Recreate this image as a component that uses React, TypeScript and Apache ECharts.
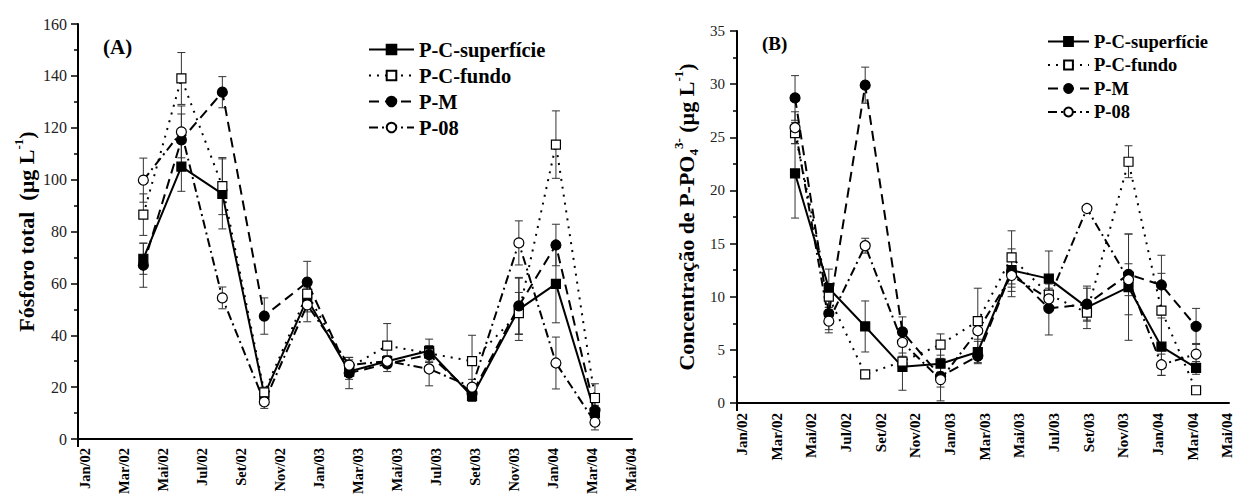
import React, { useEffect, useRef } from "react";
import * as echarts from "echarts";

const SERIF = '"Liberation Serif", "Times New Roman", serif';

// x tick labels every two months, starting Jan/02 (month 0)
const xTickLabels = [
  "Jan/02", "Mar/02", "Mai/02", "Jul/02", "Set/02", "Nov/02",
  "Jan/03", "Mar/03", "Mai/03", "Jul/03", "Set/03", "Nov/03",
  "Jan/04", "Mar/04", "Mai/04",
];

// sampling dates in months since Jan/02
const sampleMonths = [3.35, 5.3, 7.4, 9.55, 11.75, 13.9, 15.85, 18.0, 20.2, 22.6, 24.5, 26.5];

const seriesNames = ["P-C-superfície", "P-C-fundo", "P-M", "P-08"];

// (A) Fósforo total (µg/L)
const A_sup = [69.5, 105, 94.5, 17, 54, 26, 30, 34, 16.5, 50, 59.8, 10];
const A_sup_err = [6, 9.5, 13.5, 2, 5, 3, 2, 4.5, 2, 12, 15, 3];
const A_fun = [86.5, 139, 97.5, 18, 56, 27.5, 36, 33, 30, 48.5, 113.5, 15.8];
const A_fun_err = [8, 10, 11, 2, 5, 3, 8.5, 3, 10, 8, 13, 5.5];
const A_pm = [67, 115.3, 133.7, 47.4, 60.5, 25.4, 29, 32.5, 17.5, 51.3, 74.8, 11];
const A_pm_err = [8.5, 10, 6, 7, 8, 6, 3, 3, 2, 11, 8, 3];
const A_p08 = [99.8, 118.4, 54.4, 14.3, 51.7, 28.5, 30, 27, 20, 75.6, 29.3, 6.5];
const A_p08_err = [8.5, 10, 4.2, 2.5, 6.5, 3, 2, 6.5, 3, 8.5, 10, 3];

// (B) Concentração de P-PO4 (µg/L)
const B_sup = [21.6, 10.8, 7.2, 3.4, 3.7, 4.8, 12.5, 11.7, 9.0, 10.9, 5.3, 3.3];
const B_sup_err = [4.2, 1.8, 2.4, 2.2, 1.5, 1, 2, 2.6, 2, 5, 2.7, 0.6];
const B_fun = [25.4, 10.0, 2.7, 3.9, 5.5, 7.7, 13.7, 10.2, 8.5, 22.7, 8.7, 1.2];
const B_fun_err = [1, 1, 0.3, 0.5, 1, 3.1, 2.5, 1, 0.8, 1.5, 3.5, 0.3];
const B_pm = [28.7, 8.4, 29.9, 6.7, 2.5, 4.4, 12.4, 8.9, 9.3, 12.1, 11.1, 7.2];
const B_pm_err = [2.1, 1.5, 1.7, 1.4, 1, 0.7, 1.5, 2.5, 1.5, 3.8, 2.8, 1.7];
const B_p08 = [25.9, 7.7, 14.8, 5.7, 2.2, 6.8, 12.0, 9.8, 18.3, 11.6, 3.6, 4.6];
const B_p08_err = [1.5, 1.1, 0.7, 1, 2, 0.8, 2, 1, 0.3, 1.5, 1, 1];

const styles = [
  { symbol: "rect", size: 9, fill: "#000", dash: "solid" as any },
  { symbol: "rect", size: 9, fill: "#fff", dash: [2, 6] as any },
  { symbol: "circle", size: 10, fill: "#000", dash: [10, 6] as any },
  { symbol: "circle", size: 10, fill: "#fff", dash: [9, 4, 2, 4] as any },
];

function lineSeries(idx: number, k: number, vals: number[]) {
  const s = styles[k];
  return {
    type: "line",
    name: seriesNames[k],
    xAxisIndex: idx,
    yAxisIndex: idx,
    data: sampleMonths.map((m, i) => [m, vals[i]]),
    symbol: s.symbol,
    symbolSize: s.size,
    showAllSymbol: true,
    lineStyle: { color: "#000", width: 2, type: s.dash },
    itemStyle: { color: s.fill, borderColor: "#000", borderWidth: 1.2 },
    z: 3,
    silent: true,
  };
}

function errSeries(idx: number, k: number, vals: number[], errs: number[]) {
  return {
    type: "custom",
    name: "err-" + idx + "-" + k,
    xAxisIndex: idx,
    yAxisIndex: idx,
    data: sampleMonths.map((m, i) => [m, vals[i], errs[i]]),
    encode: { x: 0, y: 1 },
    silent: true,
    z: 1,
    renderItem: (params: any, api: any) => {
      const x = api.value(0);
      const y = api.value(1);
      const e = api.value(2);
      const t = api.coord([x, y + e]);
      const b = api.coord([x, Math.max(0, y - e)]);
      const w = 4;
      const st = { stroke: "#333", lineWidth: 1 };
      return {
        type: "group",
        children: [
          { type: "line", shape: { x1: t[0], y1: t[1], x2: b[0], y2: b[1] }, style: st },
          { type: "line", shape: { x1: t[0] - w, y1: t[1], x2: t[0] + w, y2: t[1] }, style: st },
          { type: "line", shape: { x1: b[0] - w, y1: b[1], x2: b[0] + w, y2: b[1] }, style: st },
        ],
      };
    },
  };
}

function xAxis(idx: number, max: number, offset: number, fontSize: number, margin: number) {
  return {
    type: "value",
    gridIndex: idx,
    min: 0,
    max,
    axisLine: { show: true, onZero: false, lineStyle: { color: "#000", width: 2 } },
    axisTick: { show: true, customValues: [0], length: 8, lineStyle: { color: "#000", width: 2 } },
    axisLabel: {
      customValues: xTickLabels.map((_, i) => i * 2 + offset),
      formatter: (v: number) => xTickLabels[Math.round((v - offset) / 2)] || "",
      rotate: 90,
      fontSize,
      fontWeight: "bold",
      fontFamily: SERIF,
      color: "#000",
      margin,
    },
    splitLine: { show: false },
  };
}

function richName(fs: number) {
  return {
    rich: {
      b: { fontSize: fs, fontWeight: "bold", fontFamily: SERIF, color: "#000", lineHeight: fs + 6 },
      sup: { fontSize: Math.round(fs * 0.6), fontWeight: "bold", fontFamily: SERIF, color: "#000", verticalAlign: "top", lineHeight: Math.round(fs * 0.6) + 2 },
      sub: { fontSize: Math.round(fs * 0.6), fontWeight: "bold", fontFamily: SERIF, color: "#000", verticalAlign: "bottom", lineHeight: Math.round(fs * 0.6) + 2 },
    },
  };
}

function yAxis(idx: number, max: number, interval: number, fontSize: number, name: string, nameGap: number, nameFs: number, margin: number) {
  return {
    type: "value",
    gridIndex: idx,
    min: 0,
    max,
    interval,
    axisLine: { show: true, lineStyle: { color: "#000", width: 2 } },
    axisTick: { show: true, length: 7, lineStyle: { color: "#000", width: 1.5 } },
    minorTick: { show: true, splitNumber: 2, length: 4, lineStyle: { color: "#000", width: 1.5 } },
    axisLabel: { fontSize, fontFamily: SERIF, color: "#222", margin },
    splitLine: { show: false },
    name,
    nameLocation: "middle",
    nameRotate: 90,
    nameGap,
    nameTextStyle: richName(nameFs),
  };
}

export default function App() {
  const ref = useRef<HTMLDivElement>(null);
  useEffect(() => {
    if (!ref.current) return;
    const chart = echarts.init(ref.current, null, { renderer: "svg" });
    const option: any = {
      animation: false,
      backgroundColor: "#fff",
      grid: [
        { left: 78, top: 24, width: 554, height: 415, outerBoundsMode: "none", containLabel: false },
        { left: 737, top: 31, width: 492, height: 372, outerBoundsMode: "none", containLabel: false },
      ],
      xAxis: [xAxis(0, 28.4, 0.36, 14.5, 9), xAxis(1, 28.4, 0.3, 15, 10)],
      yAxis: [
        yAxis(0, 160, 20, 16, "{b|Fósforo total  (µg L}{sup|-1}{b|)}", 38, 22, 11),
        yAxis(1, 35, 5, 15, "{b|Concentração de P-PO}{sub|4}{sup|3-}{b| (µg L}{sup|-1}{b|)}", 37, 22, 12),
      ],
      legend: [
        {
          left: 363, top: 34, orient: "vertical", itemWidth: 45, itemHeight: 12, itemGap: 5,
          selectedMode: false, data: seriesNames,
          textStyle: { fontFamily: SERIF, fontWeight: "bold", fontSize: 20.5, color: "#000" },
        },
        {
          left: 1042, top: 27, orient: "vertical", itemWidth: 41, itemHeight: 11, itemGap: 4.5,
          selectedMode: false, data: seriesNames,
          textStyle: { fontFamily: SERIF, fontWeight: "bold", fontSize: 18.5, color: "#000" },
        },
      ],
      graphic: [
        { type: "text", left: 103, top: 36, style: { text: "(A)", font: "bold 21px " + SERIF, fill: "#000" } },
        { type: "text", left: 762, top: 34, style: { text: "(B)", font: "bold 19px " + SERIF, fill: "#000" } },
      ],
      series: [
        errSeries(0, 0, A_sup, A_sup_err),
        errSeries(0, 1, A_fun, A_fun_err),
        errSeries(0, 2, A_pm, A_pm_err),
        errSeries(0, 3, A_p08, A_p08_err),
        errSeries(1, 0, B_sup, B_sup_err),
        errSeries(1, 1, B_fun, B_fun_err),
        errSeries(1, 2, B_pm, B_pm_err),
        errSeries(1, 3, B_p08, B_p08_err),
        lineSeries(0, 0, A_sup),
        lineSeries(0, 1, A_fun),
        lineSeries(0, 2, A_pm),
        lineSeries(0, 3, A_p08),
        lineSeries(1, 0, B_sup),
        lineSeries(1, 1, B_fun),
        lineSeries(1, 2, B_pm),
        lineSeries(1, 3, B_p08),
      ],
    };
    chart.setOption(option);
    return () => chart.dispose();
  }, []);
  return (
    <div
      ref={ref}
      style={{ position: "fixed", left: 0, top: 0, width: 1236, height: 495, background: "#fff" }}
    />
  );
}
